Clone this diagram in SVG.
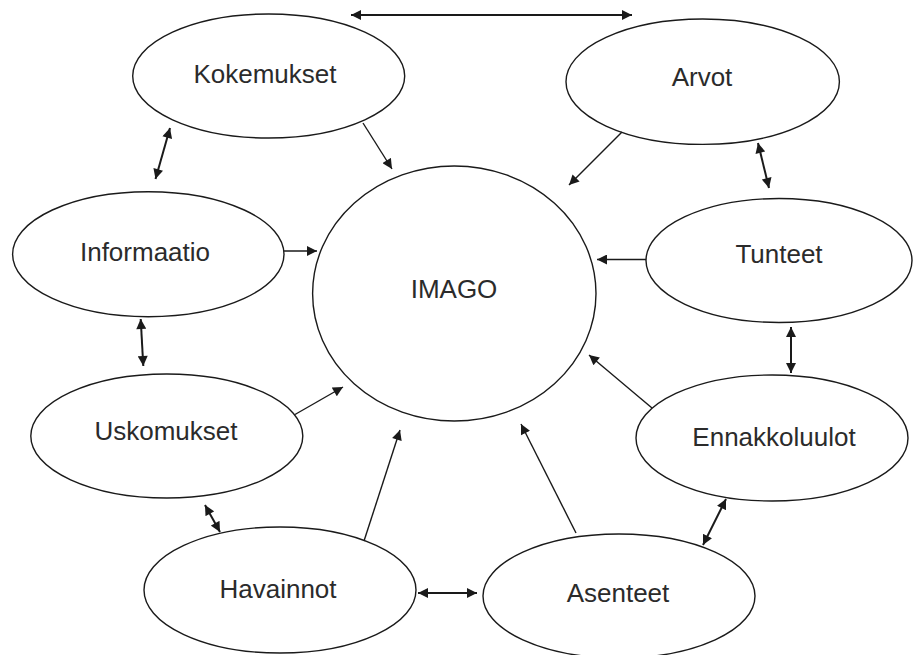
<svg xmlns="http://www.w3.org/2000/svg" width="913" height="655" viewBox="0 0 913 655">
<style>
.node ellipse{fill:#fff;stroke:#1a1a1a;stroke-width:1.4}
.node text{font-family:"Liberation Sans",Arial,sans-serif;font-size:26px;fill:#2b2b2b;text-anchor:middle}
.c line{stroke:#1a1a1a;stroke-width:1.4;marker-end:url(#ah)}
.c line.d{stroke-width:2;marker-start:url(#ah)}
</style>
<defs>
<marker id="ah" viewBox="0 0 10 10" refX="10" refY="5" markerWidth="11" markerHeight="10" markerUnits="userSpaceOnUse" orient="auto-start-reverse">
<path d="M0,0 L10,5 L0,10 z" fill="#1a1a1a"/>
</marker>
</defs>
<rect width="913" height="655" fill="#fff"/>
<g id="imago" class="node"><ellipse cx="454.3" cy="293.5" rx="141.7" ry="127.5"/><text x="454" y="298">IMAGO</text></g>
<g id="kokemukset" class="node"><ellipse cx="268.7" cy="76" rx="136" ry="62"/><text x="265" y="83">Kokemukset</text></g>
<g id="arvot" class="node"><ellipse cx="702.7" cy="81.7" rx="136.7" ry="62.7"/><text x="702" y="86">Arvot</text></g>
<g id="informaatio" class="node"><ellipse cx="148.3" cy="254.2" rx="135.7" ry="62.5"/><text x="145" y="261">Informaatio</text></g>
<g id="tunteet" class="node"><ellipse cx="779" cy="260.5" rx="133" ry="62"/><text x="779" y="263">Tunteet</text></g>
<g id="uskomukset" class="node"><ellipse cx="166.8" cy="436" rx="136" ry="62"/><text x="166" y="440">Uskomukset</text></g>
<g id="ennakkoluulot" class="node"><ellipse cx="772" cy="438" rx="136" ry="63"/><text x="774" y="446">Ennakkoluulot</text></g>
<g id="havainnot" class="node"><ellipse cx="280" cy="590" rx="136" ry="63"/><text x="278" y="598">Havainnot</text></g>
<g id="asenteet" class="node"><ellipse cx="619" cy="596" rx="136" ry="62"/><text x="618" y="602">Asenteet</text></g>
<g id="connectors" class="c">
<line class="d" x1="351" y1="15" x2="632" y2="15"/>
<line x1="363" y1="123" x2="392" y2="169"/>
<line x1="622" y1="132" x2="569" y2="185"/>
<line class="d" x1="170" y1="128" x2="155.5" y2="179"/>
<line x1="284" y1="251" x2="317" y2="251"/>
<line class="d" x1="758" y1="143" x2="769" y2="188"/>
<line x1="646" y1="259.5" x2="597" y2="259.5"/>
<line class="d" x1="140.7" y1="319" x2="143.3" y2="366"/>
<line class="d" x1="791" y1="327" x2="791" y2="373"/>
<line x1="295" y1="414.5" x2="343" y2="387"/>
<line x1="652" y1="408" x2="589" y2="355"/>
<line class="d" x1="205" y1="505" x2="220" y2="532"/>
<line x1="364" y1="541" x2="400" y2="430"/>
<line x1="576" y1="533" x2="521" y2="424"/>
<line class="d" x1="418" y1="593" x2="477" y2="593"/>
<line class="d" x1="726" y1="499" x2="703" y2="545"/>
</g>
</svg>
